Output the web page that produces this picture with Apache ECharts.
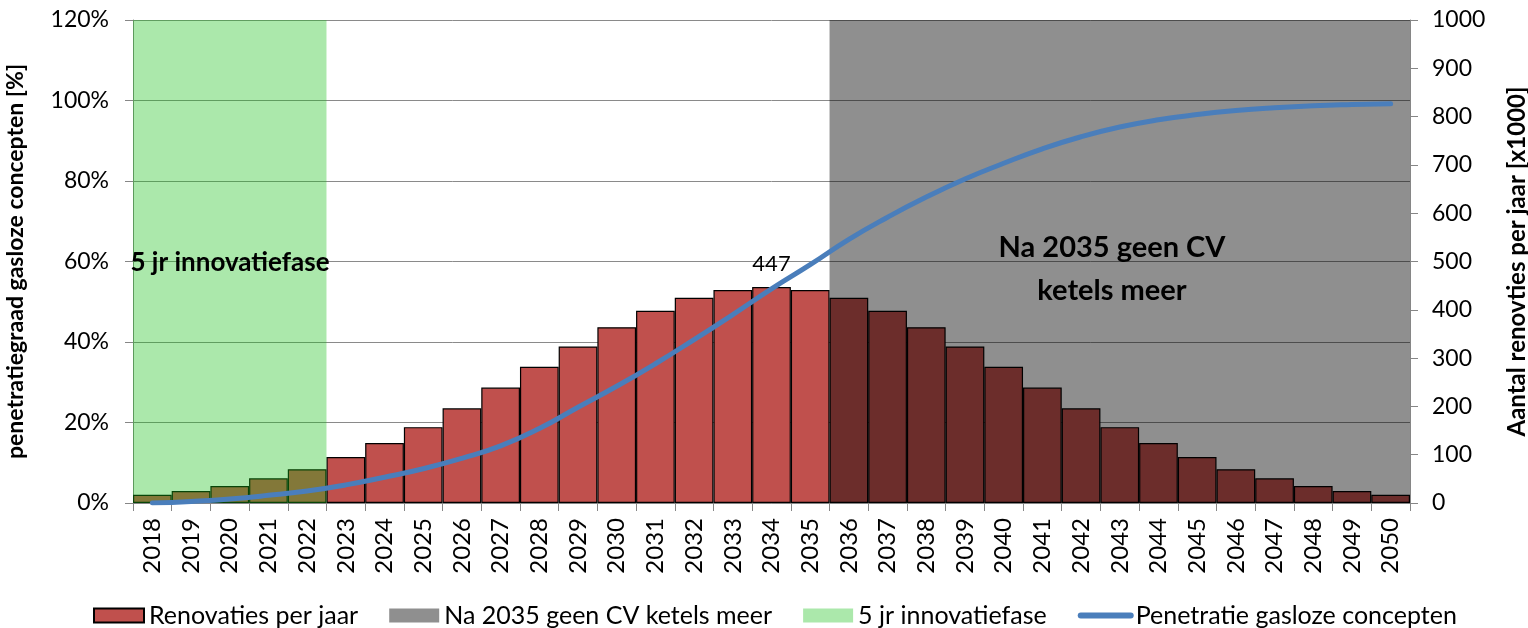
<!DOCTYPE html>
<html>
<head>
<meta charset="utf-8">
<script src="https://cdn.jsdelivr.net/npm/echarts/dist/echarts.min.js"></script>
<style>
html, body { margin: 0; padding: 0; background: #fff; }
#chart { width: 1528px; height: 628px; }
</style>
</head>
<body>
<div id="chart"></div>
<script>
// categories
var years = ['2018', '2019', '2020', '2021', '2022', '2023', '2024', '2025', '2026', '2027', '2028',
    '2029', '2030', '2031', '2032', '2033', '2034', '2035', '2036', '2037', '2038', '2039',
    '2040', '2041', '2042', '2043', '2044', '2045', '2046', '2047', '2048', '2049', '2050'];

// renovaties per jaar [x1000] (right axis)
var renovaties = [17, 25, 35, 51, 70, 95, 124, 157, 196, 239, 282, 324, 364, 398, 425, 441, 447,
    441, 425, 398, 364, 324, 282, 239, 196, 157, 124, 95, 70, 51, 35, 25, 17];

// penetratie gasloze concepten [%] (left axis)
var penetratie = [0, 0.4, 1.0, 1.9, 3.0, 4.5, 6.4, 8.5, 11.1, 14.2, 18.5, 23.8, 29.0, 34.6, 40.6,
    46.8, 53.2, 59.2, 65.5, 71.0, 76.0, 80.5, 84.4, 88.0, 91.0, 93.4, 95.2, 96.5, 97.5, 98.2,
    98.7, 99.0, 99.2];

// shaded phases: first and last year, height on the left axis
var innovatieFase = ['2018', '2022'];
var geenCvFase = ['2036', '2050'];
var bandTop = 120;

var leftTicks = { min: 0, max: 120, interval: 20 };
var rightTicks = { min: 0, max: 1000, interval: 100 };

var fontFamily = 'Lato, "Open Sans", sans-serif';

function phase(range){
    return [[years.indexOf(range[0]), years.indexOf(range[1]), bandTop]];
}

// one rectangle from the left edge of the first year to the right edge of the last
function renderPhase(params, api){
    var topLeft = api.coord([api.value(0), api.value(2)]);
    var bottomRight = api.coord([api.value(1), 0]);
    var w = api.size([1, 0])[0];
    return {
        type: 'rect',
        shape: {
            x: topLeft[0] - w / 2,
            y: topLeft[1],
            width: bottomRight[0] - topLeft[0] + w,
            height: bottomRight[1] - topLeft[1]
        },
        style: { fill: api.visual('color') }
    };
}

var peak = Math.max.apply(null, renovaties);
var renovatieData = renovaties.map(function(v){
    return v === peak ? { value: v, label: { show: true } } : v;
});

var chart = echarts.init(document.getElementById('chart'));

var option = {
    animation: false,
    backgroundColor: '#fff',
    textStyle: { fontFamily: fontFamily },
    grid: {
        left: 133,
        right: 118,
        top: 20,
        bottom: 125,
        outerBoundsMode: 'none',
        containLabel: false
    },
    legend: {
        top: 598,
        left: 88,
        itemWidth: 50,
        itemHeight: 14,
        itemGap: 31,
        textStyle: { fontSize: 25, color: '#000', fontFamily: fontFamily },
        data: [
            { name: 'Renovaties per jaar', icon: 'rect' },
            { name: 'Na 2035 geen CV ketels meer', icon: 'rect' },
            { name: '5 jr innovatiefase', icon: 'rect' },
            { name: 'Penetratie gasloze concepten', itemStyle: { opacity: 0 }, lineStyle: { width: 6, cap: 'round' } }
        ]
    },
    xAxis: {
        type: 'category',
        data: years,
        boundaryGap: true,
        axisLine: { lineStyle: { color: '#868686', width: 1 } },
        axisTick: { show: true, length: 8, lineStyle: { color: '#868686' } },
        axisLabel: { rotate: 90, interval: 0, margin: 15, fontSize: 24, color: '#000' }
    },
    yAxis: [
        {
            type: 'value',
            min: leftTicks.min,
            max: leftTicks.max,
            interval: leftTicks.interval,
            name: 'penetratiegraad gasloze concepten [%]',
            nameLocation: 'middle',
            nameRotate: 90,
            nameGap: 106,
            nameTextStyle: { fontSize: 23, fontWeight: 'bold', color: '#000' },
            axisLine: { show: true, lineStyle: { color: '#868686' } },
            axisTick: { show: true, length: 8, lineStyle: { color: '#868686' } },
            axisLabel: { formatter: '{value}%', fontSize: 23, color: '#000', margin: 24 },
            splitLine: { show: true, lineStyle: { color: '#8a8a8a', width: 1 } }
        },
        {
            type: 'value',
            position: 'right',
            min: rightTicks.min,
            max: rightTicks.max,
            interval: rightTicks.interval,
            name: 'Aantal renovties per jaar [x1000]',
            nameLocation: 'middle',
            nameRotate: 90,
            nameGap: 95,
            nameTextStyle: { fontSize: 24, fontWeight: 'bold', color: '#000' },
            axisLine: { show: true, lineStyle: { color: '#868686' } },
            axisTick: { show: true, length: 8, lineStyle: { color: '#868686' } },
            axisLabel: { formatter: function(v){ return String(v); }, fontSize: 23, color: '#000', margin: 22 },
            splitLine: { show: false }
        }
    ],
    series: [
        {
            name: 'Renovaties per jaar',
            type: 'bar',
            yAxisIndex: 1,
            data: renovatieData,
            barCategoryGap: 0,
            z: 2,
            itemStyle: { color: '#c0504d', borderColor: '#000', borderWidth: 1.2 },
            label: { show: false, position: 'top', distance: 12, fontSize: 22, color: '#000' },
            emphasis: { disabled: true }
        },
        {
            name: 'Na 2035 geen CV ketels meer',
            type: 'custom',
            yAxisIndex: 0,
            data: phase(geenCvFase),
            renderItem: renderPhase,
            z: 3,
            silent: true,
            itemStyle: { color: 'rgba(0,0,0,0.44)' }
        },
        {
            name: '5 jr innovatiefase',
            type: 'custom',
            yAxisIndex: 0,
            data: phase(innovatieFase),
            renderItem: renderPhase,
            z: 3,
            silent: true,
            itemStyle: { color: 'rgba(22,191,22,0.36)' }
        },
        {
            name: 'Penetratie gasloze concepten',
            type: 'line',
            yAxisIndex: 0,
            data: penetratie,
            smooth: true,
            symbol: 'none',
            z: 5,
            lineStyle: { color: '#4a7ebb', width: 5, cap: 'round' },
            itemStyle: { color: '#4a7ebb' },
            emphasis: { disabled: true }
        }
    ],
    graphic: [
        {
            type: 'text',
            x: 230,
            y: 250,
            z: 10,
            style: { text: '5 jr innovatiefase', fontSize: 26, fontWeight: 'bold', fill: '#000',
                align: 'center', fontFamily: fontFamily }
        },
        {
            type: 'text',
            x: 1112,
            y: 226,
            z: 10,
            style: {
                text: 'Na 2035 geen CV\nketels meer',
                fontSize: 29,
                lineHeight: 43,
                fontWeight: 'bold',
                fill: '#000',
                align: 'center',
                fontFamily: fontFamily
            }
        }
    ]
};

chart.setOption(option);
</script>
</body>
</html>
